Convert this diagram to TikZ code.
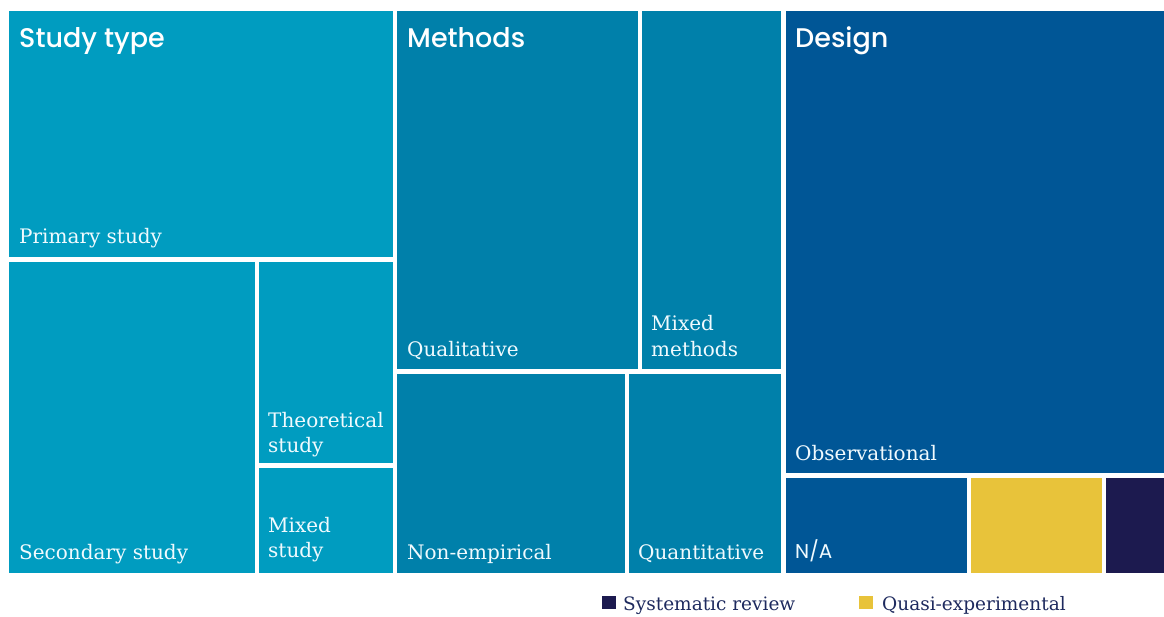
\documentclass[tikz,border=0pt]{standalone}
\usepackage{fontspec}
\setmainfont{DejaVu Serif}
\newfontfamily\headfont{Poppins}[BoldFont={Poppins Medium}]
\usetikzlibrary{positioning}
\definecolor{studyblue}{HTML}{009CC0}
\definecolor{methodblue}{HTML}{0080AA}
\definecolor{designblue}{HTML}{005696}
\definecolor{quasiyellow}{HTML}{E8C33A}
\definecolor{sysnavy}{HTML}{1C1A4F}
\definecolor{keytext}{HTML}{1E2A5E}
\tikzstyle{heading} = [anchor=base west, inner sep=0pt, text=white, font=\headfont\bfseries\fontsize{27}{30}\selectfont]
\tikzstyle{label} = [anchor=base west, inner sep=0pt, text=white!94!cyan, align=left, font=\fontsize{20}{25}\selectfont]
\tikzstyle{sanslabel} = [anchor=base west, inner sep=0pt, text=white!94!cyan, font=\headfont\fontsize{20}{25}\selectfont]
\tikzstyle{keylabel} = [anchor=base west, inner sep=0pt, text=keytext, font=\fontsize{18.5}{25}\selectfont]

\begin{document}
\begin{tikzpicture}[x=1pt, y=-1pt]
\useasboundingbox (0,0) rectangle (1164,617);

% Study type
\fill [studyblue] (9,11) rectangle (393,257);
\fill [studyblue] (9,262) rectangle (255,573);
\fill [studyblue] (259,262) rectangle (393,463);
\fill [studyblue] (259,468) rectangle (393,573);
\node (studytype) [heading] at (19,48) {Study type};
\node (primary) [label] at (19,244) {Primary study};
\node (secondary) [label] at (19,559) {Secondary study};
% two-line labels sit on their last line
\node (theoretical) [label] at (268,452) {Theoretical\\study};
\node (mixedstudy) [label] at (268,557) {Mixed\\study};

% Methods
\fill [methodblue] (397,11) rectangle (638,369);
\fill [methodblue] (642,11) rectangle (781,369);
\fill [methodblue] (397,374) rectangle (625,573);
\fill [methodblue] (629,374) rectangle (781,573);
\node (methods) [heading] at (407,48) {Methods};
\node (qualitative) [label] at (407,356) {Qualitative};
\node (mixedmethods) [label] at (651,356) {Mixed\\methods};
\node (nonempirical) [label] at (407,559) {Non-empirical};
\node (quantitative) [label] at (638,559) {Quantitative};

% Design
\fill [designblue] (786,11) rectangle (1164,473);
\fill [designblue] (786,478) rectangle (967,573);
\fill [quasiyellow] (971,478) rectangle (1102,573);
\fill [sysnavy] (1106,478) rectangle (1164,573);
\node (design) [heading] at (795,48) {Design};
\node (observational) [label] at (795,460) {Observational};
\node (na) [sanslabel] at (795,558) {N/A};

% Key
\fill [sysnavy] (602,596) rectangle (616,609);
\node (syskey) [keylabel] at (623,610) {Systematic review};
\fill [quasiyellow] (859,596) rectangle (873,609);
\node (quasikey) [keylabel] at (882,610) {Quasi-experimental};
\end{tikzpicture}
\end{document}
